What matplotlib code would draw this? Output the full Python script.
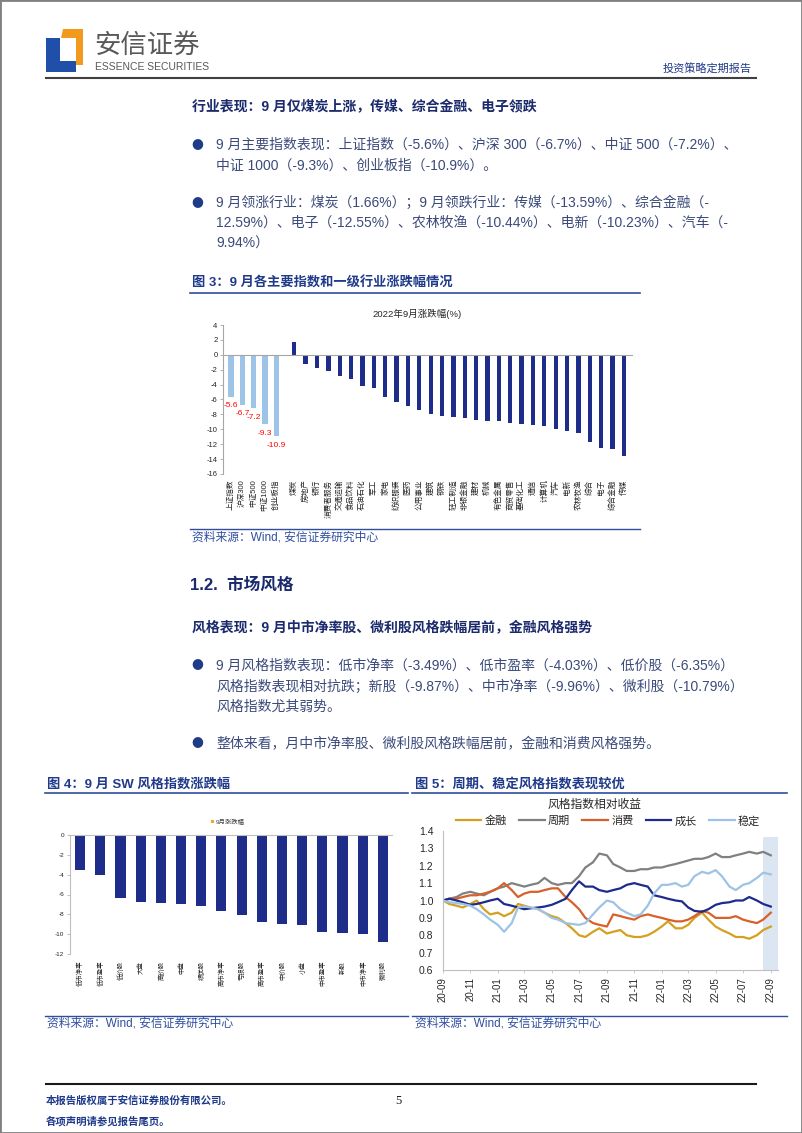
import numpy as np
import pandas as pd
import matplotlib
matplotlib.use("Agg")
import matplotlib.pyplot as plt
from matplotlib.lines import Line2D
from matplotlib.patches import Polygon, Rectangle, Patch
from matplotlib import font_manager

# ---------------- data ----------------
# 图3: 9月各主要指数和一级行业涨跌幅 (%)
idx_names = ['上证指数', '沪深300', '中证500', '中证1000', '创业板指']
idx_chg = [-5.6, -6.7, -7.2, -9.3, -10.9]
ind_names = ['煤炭', '房地产', '银行', '消费者服务', '交通运输', '食品饮料', '石油石化',
             '军工', '家电', '纺织服装', '医药', '公用事业', '建筑', '钢铁', '轻工制造',
             '非银金融', '建材', '机械', '有色金属', '商贸零售', '基础化工', '通信',
             '计算机', '汽车', '电新', '农林牧渔', '综合', '电子', '综合金融', '传媒']
ind_chg = [1.66, -1.2, -1.8, -2.2, -2.8, -3.2, -4.2, -4.4, -5.7, -6.3, -6.9, -7.4,
           -8.0, -8.2, -8.3, -8.5, -8.7, -8.9, -8.9, -9.2, -9.3, -9.4, -9.5, -9.94,
           -10.23, -10.44, -11.7, -12.55, -12.59, -13.59]

# 图4: 9月SW风格指数涨跌幅 (%)
sw_names = ['低市净率', '低市盈率', '低价股', '大盘', '高价股', '中盘', '绩优股', '高市净率',
            '亏损股', '高市盈率', '中价股', '小盘', '中市盈率', '新股', '中市净率', '微利股']
sw_chg = [-3.49, -4.03, -6.35, -6.75, -6.85, -6.95, -7.2, -7.7, -8.05, -8.75, -8.95,
          -9.05, -9.8, -9.87, -9.96, -10.79]

# 图5: 风格指数相对收益 (semi-monthly readings)
style_dates = pd.date_range('2020-09-01', periods=49, freq='SMS')
fin = [1.00, 0.98, 0.97, 0.96, 0.98, 1.00, 0.95, 0.92, 0.93, 0.91,
       0.93, 0.98, 0.97, 0.96, 0.95, 0.93, 0.91, 0.90, 0.87, 0.84,
       0.80, 0.79, 0.82, 0.84, 0.81, 0.82, 0.83, 0.80, 0.79, 0.79,
       0.80, 0.82, 0.85, 0.88, 0.84, 0.84, 0.86, 0.90, 0.93, 0.89,
       0.85, 0.83, 0.81, 0.79, 0.79, 0.78, 0.80, 0.83, 0.85]
cyc = [1.00, 1.01, 1.02, 1.04, 1.05, 1.04, 1.03, 1.05, 1.07, 1.08,
       1.10, 1.09, 1.08, 1.09, 1.10, 1.13, 1.10, 1.09, 1.10, 1.10,
       1.14, 1.19, 1.22, 1.27, 1.26, 1.21, 1.19, 1.17, 1.17, 1.18,
       1.18, 1.19, 1.19, 1.20, 1.21, 1.22, 1.23, 1.24, 1.24, 1.25,
       1.27, 1.25, 1.25, 1.26, 1.27, 1.28, 1.27, 1.28, 1.26]
con = [1.00, 1.01, 1.01, 1.02, 1.03, 1.03, 1.04, 1.05, 1.07, 1.10,
       1.06, 1.02, 1.04, 1.05, 1.05, 1.06, 1.07, 1.07, 1.02, 0.99,
       0.95, 0.90, 0.87, 0.86, 0.85, 0.92, 0.91, 0.90, 0.89, 0.91,
       0.92, 0.91, 0.90, 0.89, 0.88, 0.88, 0.89, 0.91, 0.94, 0.93,
       0.90, 0.90, 0.90, 0.91, 0.89, 0.88, 0.87, 0.89, 0.93]
gro = [1.00, 1.01, 1.00, 0.99, 0.975, 0.98, 0.99, 1.00, 1.01, 0.98,
       0.97, 0.96, 0.95, 0.955, 0.96, 0.965, 0.975, 0.99, 1.01, 1.06,
       1.11, 1.08, 1.08, 1.06, 1.05, 1.06, 1.07, 1.09, 1.10, 1.09,
       1.08, 1.03, 1.02, 1.01, 1.00, 0.995, 0.96, 0.94, 0.935, 0.95,
       0.975, 0.985, 0.99, 1.00, 1.00, 1.02, 1.00, 0.98, 0.965]
sta = [1.00, 0.99, 0.985, 0.98, 0.97, 0.95, 0.92, 0.89, 0.86, 0.82,
       0.87, 0.96, 0.965, 0.96, 0.95, 0.93, 0.90, 0.89, 0.87, 0.865,
       0.86, 0.87, 0.92, 0.96, 1.00, 0.99, 0.95, 0.93, 0.91, 0.92,
       0.97, 1.04, 1.09, 1.09, 1.10, 1.08, 1.09, 1.14, 1.165, 1.155,
       1.175, 1.14, 1.08, 1.06, 1.09, 1.10, 1.13, 1.16, 1.15]
style_series = [('金融', fin, '#D4A020'), ('周期', cyc, '#808080'), ('消费', con, '#D8602A'),
                ('成长', gro, '#1C2B8C'), ('稳定', sta, '#9DC3E6')]
style_ticks = ['20-09', '20-11', '21-01', '21-03', '21-05', '21-07', '21-09',
               '21-11', '22-01', '22-03', '22-05', '22-07', '22-09']

# ---------------- page setup ----------------
W, H = 802, 1133
avail = {f.name for f in font_manager.fontManager.ttflist}
plt.rcParams['font.family'] = ['Liberation Sans', 'Noto Sans CJK SC', 'DejaVu Sans']
plt.rcParams['axes.unicode_minus'] = False
narrow = 'Liberation Sans Narrow' if 'Liberation Sans Narrow' in avail else 'Liberation Sans'

HEAD = '#1A2A6C'
BODY = '#3B4A7A'
FIGC = '#1F3A8A'
LINEC = '#2F4E9E'
NAVY = '#1F2D8A'

fig = plt.figure(figsize=(W / 100, H / 100), dpi=100)


def fx(x):
    return x / W


def fy(y):
    return 1 - y / H


def put(x, y, s, size=10, color=BODY, weight='normal', ha='left', **kw):
    fig.text(fx(x), fy(y), s, fontsize=size, color=color, fontweight=weight,
             ha=ha, va='center', **kw)


def bullet(y):
    fig.text(fx(197), fy(y), '●', fontsize=8.5, color='#1F3C88', ha='center',
             va='center', family=['Noto Sans CJK SC', 'DejaVu Sans'])


def hline(x0, x1, y, color, lw):
    fig.add_artist(Line2D([fx(x0), fx(x1)], [fy(y), fy(y)], transform=fig.transFigure,
                          color=color, lw=lw))


def axes_px(left, top, right, bottom):
    return fig.add_axes([fx(left), fy(bottom), (right - left) / W, (bottom - top) / H])


# page border
fig.add_artist(Rectangle((0, 0), 1, 1, transform=fig.transFigure, fill=False,
                         edgecolor='#808080', lw=2))

# header / logo
blue = [(46, 38), (60, 38), (60, 61), (76, 61), (76, 72), (46, 72)]
orange = [(63, 29), (83, 29), (83, 65), (76, 65), (76, 38), (61, 38)]
for pts, c in [(blue, '#1F4FA8'), (orange, '#F29A1E')]:
    fig.add_artist(Polygon([(fx(a), fy(b)) for a, b in pts], closed=True,
                           transform=fig.transFigure, color=c, lw=0))
put(94, 45, '安信证券', size=19, color='#595959')
fig.text(fx(95), fy(67), 'ESSENCE SECURITIES', fontsize=7.5, color='#595959',
         family=[narrow, 'DejaVu Sans'], va='center')
put(752, 69, '投资策略定期报告', size=8, color=FIGC, ha='right')
hline(46, 756, 78, '#404040', 1.5)

# section 1.1 text
put(192, 106, '行业表现：9 月仅煤炭上涨，传媒、综合金融、电子领跌', size=10, color=HEAD, weight='bold')
bullet(145)
put(216, 145, '9 月主要指数表现：上证指数（-5.6%）、沪深 300（-6.7%）、中证 500（-7.2%）、')
put(216, 166, '中证 1000（-9.3%）、创业板指（-10.9%）。')
bullet(203)
put(216, 203, '9 月领涨行业：煤炭（1.66%）；9 月领跌行业：传媒（-13.59%）、综合金融（-')
put(216, 223, '12.59%）、电子（-12.55%）、农林牧渔（-10.44%）、电新（-10.23%）、汽车（-')
put(216, 244, '9.94%）')

put(192, 283, '图 3：9 月各主要指数和一级行业涨跌幅情况', size=9.5, color=FIGC, weight='bold')
hline(190, 640, 293, LINEC, 1.2)

# ---------------- chart 3 ----------------
ax3 = axes_px(223, 325, 633, 474)
x_idx = np.arange(len(idx_names))
x_ind = len(idx_names) + 0.57 + np.arange(len(ind_names))
ax3.bar(x_idx, idx_chg, width=0.45, color='#9DC3E6')
ax3.bar(x_ind, ind_chg, width=0.38, color=NAVY)
for xv, v in zip(x_idx, idx_chg):
    ax3.annotate(f'{v:.1f}', (xv, v), xytext=(0, -6.5), textcoords='offset points',
                 ha='center', va='center', color='#FF0000', fontsize=6)
ax3.axhline(0, color='#A6A6A6', lw=0.8)
ax3.set_ylim(-16, 4)
ax3.set_yticks(range(-16, 5, 2))
ax3.set_xlim(-0.7, x_ind[-1] + 0.8)
ax3.set_xticks(np.concatenate([x_idx, x_ind]))
ax3.set_xticklabels(idx_names + ind_names, rotation=90, fontsize=5.5, color='#262626')
ax3.tick_params(axis='x', length=0, pad=4)
ax3.tick_params(axis='y', labelsize=5.5, length=2, width=0.6, color='#A6A6A6',
                labelcolor='#262626', pad=2)
for s in ['top', 'right', 'bottom']:
    ax3.spines[s].set_visible(False)
ax3.spines['left'].set_color('#A6A6A6')
ax3.spines['left'].set_linewidth(0.8)
put(417, 314, '2022年9月涨跌幅(%)', size=6.8, color='#262626', ha='center')

hline(190, 640, 529, LINEC, 1.0)
put(192, 538, '资料来源：Wind, 安信证券研究中心', size=8.5, color=LINEC)

# section 1.2 text
put(190, 585, '1.2.  市场风格', size=12, color=HEAD, weight='bold')
put(192, 627, '风格表现：9 月中市净率股、微利股风格跌幅居前，金融风格强势', size=10,
    color=HEAD, weight='bold')
bullet(666)
put(216, 666, '9 月风格指数表现：低市净率（-3.49%）、低市盈率（-4.03%）、低价股（-6.35%）')
put(216, 687, '风格指数表现相对抗跌；新股（-9.87%）、中市净率（-9.96%）、微利股（-10.79%）')
put(216, 707, '风格指数尤其弱势。')
bullet(744)
put(216, 744, '整体来看，月中市净率股、微利股风格跌幅居前，金融和消费风格强势。')

put(47, 784, '图 4：9 月 SW 风格指数涨跌幅', size=9.5, color=FIGC, weight='bold')
hline(45, 408, 793, LINEC, 1.2)
put(415, 784, '图 5：周期、稳定风格指数表现较优', size=9.5, color=FIGC, weight='bold')
hline(412, 787, 793, LINEC, 1.2)

# ---------------- chart 4 ----------------
ax4 = axes_px(70, 835, 392, 954)
x_sw = np.arange(len(sw_names))
ax4.bar(x_sw, sw_chg, width=0.5, color=NAVY)
ax4.set_ylim(-12, 0)
ax4.set_yticks(range(-12, 1, 2))
ax4.set_xlim(-0.5, len(sw_names) - 0.55)
ax4.set_xticks(x_sw)
ax4.set_xticklabels(sw_names, rotation=90, fontsize=4.6, color='#262626')
ax4.tick_params(axis='x', length=0, pad=5)
ax4.tick_params(axis='y', labelsize=4.6, length=2, width=0.5, color='#A6A6A6',
                labelcolor='#262626', pad=2)
for s in ['right', 'bottom']:
    ax4.spines[s].set_visible(False)
for s in ['left', 'top']:
    ax4.spines[s].set_color('#BFBFBF')
    ax4.spines[s].set_linewidth(0.8)
ax4.legend(handles=[Patch(facecolor='#F5A623', label='9月涨跌幅')], loc='center',
           bbox_to_anchor=(0.49, 1.11), frameon=False, fontsize=4.6,
           handlelength=0.5, handleheight=0.5, handletextpad=0.3,
           labelcolor='#404040')

# ---------------- chart 5 ----------------
ax5 = axes_px(443, 831, 778, 970)
ax5.axvspan(pd.Timestamp('2022-08-14'), pd.Timestamp('2022-09-17'), ymax=0.96,
            color='#DCE6F2', lw=0)
for name, vals, c in style_series:
    ax5.plot(style_dates, vals, color=c, lw=1.6, label=name)
ax5.set_ylim(0.6, 1.4)
ax5.set_yticks(np.arange(0.6, 1.41, 0.1))
ax5.set_yticklabels([f'{v:.1f}' for v in np.arange(0.6, 1.41, 0.1)])
ax5.set_xlim(pd.Timestamp('2020-09-01'), pd.Timestamp('2022-09-17'))
tick_dates = pd.to_datetime(['20' + t + '-01' for t in style_ticks])
ax5.set_xticks(tick_dates)
ax5.set_xticklabels(style_ticks, rotation=90)
ax5.tick_params(axis='x', labelsize=7, length=2, width=0.6, color='#BFBFBF',
                labelcolor='#262626', pad=3)
ax5.tick_params(axis='y', labelsize=7.5, length=0, labelcolor='#262626', pad=7)
for s in ['top', 'right']:
    ax5.spines[s].set_visible(False)
for s in ['left', 'bottom']:
    ax5.spines[s].set_color('#BFBFBF')
    ax5.spines[s].set_linewidth(0.8)
put(595, 805, '风格指数相对收益', size=8.5, color='#262626', ha='center')
ax5.legend(loc='center', bbox_to_anchor=((608 - 443) / 335, (970 - 821) / 139),
           ncol=5, frameon=False, fontsize=8, handlelength=2.3, handletextpad=0.3,
           columnspacing=1.1, labelcolor='#262626', borderpad=0, borderaxespad=0)

hline(45, 408, 1016, LINEC, 1.0)
hline(412, 787, 1016, LINEC, 1.0)
put(47, 1024, '资料来源：Wind, 安信证券研究中心', size=8.5, color=LINEC)
put(415, 1024, '资料来源：Wind, 安信证券研究中心', size=8.5, color=LINEC)

# footer
hline(46, 756, 1084, '#1A1A1A', 1.5)
put(46, 1101, '本报告版权属于安信证券股份有限公司。', size=7.5, color=FIGC, weight='bold')
put(46, 1121, '各项声明请参见报告尾页。', size=7.5, color=FIGC, weight='bold')
fig.text(fx(398), fy(1101), '5', fontsize=9, color='#1A1A1A', ha='center', va='center',
         family=['Liberation Serif', 'DejaVu Serif'])

fig.savefig('out.png', dpi=100)
